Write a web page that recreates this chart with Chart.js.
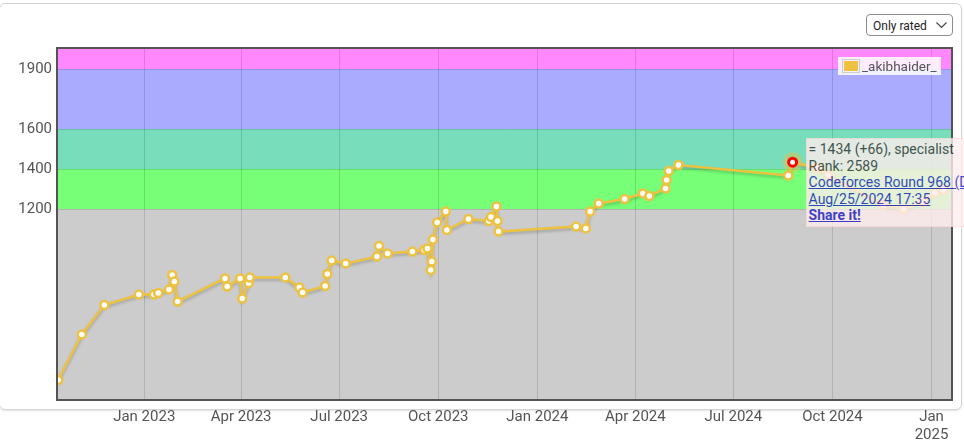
<!DOCTYPE html>
<html>
<head>
<meta charset="utf-8">
<script src="https://cdn.jsdelivr.net/npm/chart.js@4.4.1/dist/chart.umd.min.js"></script>
<style>
  html, body { margin: 0; padding: 0; background: #fff; overflow: hidden; }
  body { width: 964px; height: 444px; position: relative; font-family: Roboto, "Noto Sans", sans-serif; }
  #panel { position: absolute; left: -1px; top: 3px; width: 961px; height: 405px; border: 1px solid #d4d4d4; border-radius: 6px; box-shadow: 0 1px 2px rgba(0,0,0,0.12); }
  #chart { position: absolute; left: 0; top: 0; }
  #filter { position: absolute; left: 866px; top: 14px; width: 87px; height: 22px; border: 1px solid #8c8c8c; border-radius: 4px; background: #fff; font-size: 12px; color: #222; line-height: 22px; box-sizing: border-box; padding-left: 6px; }
  #filter svg { position: absolute; right: 5px; top: 7px; }
  #legend { position: absolute; left: 838px; top: 57px; height: 18px; padding: 0 4px; background: rgba(255,255,255,0.85); font-size: 13.5px; color: #545454; line-height: 18px; white-space: nowrap; }
  #legend .sw { display: inline-block; vertical-align: middle; border: 1px solid #ccc; padding: 1px; margin-right: 2px; margin-top: -2px; }
  #legend .sw div { width: 14px; height: 10px; background: #EDC240; }
  #tip { position: absolute; border: 1px solid #fdd; padding: 2px; background: #fee; opacity: 0.8; font-size: 14px; line-height: 16.5px; color: #333; white-space: nowrap; }
  #tip a { color: #1a1ac8; text-decoration: underline; }
  #tip a.share { font-weight: bold; }
</style>
</head>
<body>
<div id="panel"></div>
<canvas id="chart" width="964" height="444"></canvas>
<div id="filter">Only rated<svg width="11" height="7"><polyline points="0.5,0.5 5.5,5.5 10.5,0.5" fill="none" stroke="#444" stroke-width="1.2"/></svg></div>
<div id="legend"></div>
<div id="tip"></div>
<script>
// Contest history
const contestDates = [
  "2022-10-13", "2022-11-04", "2022-11-25", "2022-12-27", "2023-01-10", "2023-01-14",
  "2023-01-24", "2023-01-27", "2023-01-29", "2023-02-01", "2023-03-17", "2023-03-19",
  "2023-03-31", "2023-04-02", "2023-04-08", "2023-04-09", "2023-05-12", "2023-05-25",
  "2023-05-28", "2023-06-18", "2023-06-20", "2023-06-24", "2023-07-07", "2023-08-05",
  "2023-08-07", "2023-08-15", "2023-09-07", "2023-09-18", "2023-09-21", "2023-09-24",
  "2023-09-25", "2023-09-26", "2023-09-30", "2023-10-08", "2023-10-09", "2023-10-29",
  "2023-11-17", "2023-11-19", "2023-11-24", "2023-11-25", "2023-11-26", "2024-02-06",
  "2024-02-15", "2024-02-19", "2024-02-27", "2024-03-22", "2024-04-08", "2024-04-14",
  "2024-04-29", "2024-04-30", "2024-05-02", "2024-05-11", "2024-08-21", "2024-08-25",
  "2024-09-17", "2024-09-27", "2024-11-17", "2024-12-06", "2024-12-24", "2025-01-04",
  "2025-01-12"
];
const contestRatings = [
  345, 573, 720, 772, 772, 780,
  798, 870, 837, 737, 853, 812,
  853, 752, 829, 857, 858, 808,
  782, 815, 875, 942, 928, 962,
  1015, 978, 987, 995, 1003, 895,
  937, 1048, 1133, 1187, 1095, 1150,
  1140, 1160, 1212, 1140, 1087, 1112,
  1103, 1187, 1228, 1250, 1278, 1265,
  1303, 1345, 1390, 1420, 1368, 1434,
  1405, 1370, 1220, 1200, 1235, 1280,
  1295
];

const handle = "_akibhaider_";
const hoverIndex = 53;
const hoverRank = 2589;
const hoverTitle = "specialist";
const hoverContest = "Codeforces Round 968 (Div. 4)";
const hoverTime = "Aug/25/2024 17:35";

const yTickValues = [1200, 1400, 1600, 1900];
const xTickDates = ["2023-01-01", "2023-04-01", "2023-07-01", "2023-10-01", "2024-01-01",
  "2024-04-01", "2024-07-01", "2024-10-01", "2025-01-01"];
const xTickLabels = ["Jan 2023", "Apr 2023", "Jul 2023", "Oct 2023", "Jan 2024",
  "Apr 2024", "Jul 2024", "Oct 2024", ["Jan", "2025"]];

// rank bands: lower bounds and colours
const rankBounds = [0, 1200, 1400, 1600, 1900, 2100];
const rankColors = ["#CCCCCC", "#77FF77", "#77DDBB", "#AAAAFF", "#FF88FF"];

const lineColor = "#EDC240";

function toMs(s) {
  const [y, m, d] = s.split("-").map(Number);
  return Date.UTC(y, m - 1, d);
}

const points = contestDates.map((d, i) => ({ x: toMs(d), y: contestRatings[i] }));

// Background rank bands
const bandsPlugin = {
  id: "bands",
  beforeDraw(chart) {
    const { ctx, chartArea: a, scales: { y } } = chart;
    ctx.save();
    ctx.beginPath();
    ctx.rect(a.left, a.top, a.right - a.left, a.bottom - a.top);
    ctx.clip();
    for (let i = 0; i < rankColors.length; i++) {
      const top = y.getPixelForValue(rankBounds[i + 1]);
      const bot = y.getPixelForValue(rankBounds[i]);
      ctx.fillStyle = rankColors[i];
      ctx.fillRect(a.left, top, a.right - a.left, bot - top);
    }
    ctx.restore();
  }
};

// Shadow like flot, on the line only
const shadowPlugin = {
  id: "shadow",
  beforeDatasetDraw(chart, args) {
    const ctx = chart.ctx;
    ctx.save();
    if (args.index === 1) {
      ctx.shadowColor = "rgba(0,0,0,0.22)";
      ctx.shadowBlur = 3;
      ctx.shadowOffsetY = 2;
    }
  },
  afterDatasetDraw(chart) {
    chart.ctx.restore();
  }
};

// Frame, highlighted point and tooltip position
const overlayPlugin = {
  id: "overlay",
  afterDraw(chart) {
    const { ctx, chartArea: a } = chart;
    ctx.save();
    ctx.strokeStyle = "#545454";
    ctx.lineWidth = 2;
    ctx.strokeRect(a.left, a.top, a.right - a.left, a.bottom - a.top);

    const pt = chart.getDatasetMeta(0).data[hoverIndex];
    ctx.beginPath();
    ctx.arc(pt.x, pt.y, 10, 0, Math.PI * 2);
    ctx.fillStyle = "rgba(237,194,64,0.45)";
    ctx.fill();
    ctx.beginPath();
    ctx.arc(pt.x, pt.y, 4, 0, Math.PI * 2);
    ctx.fillStyle = "#fff";
    ctx.fill();
    ctx.lineWidth = 3;
    ctx.strokeStyle = "#ff0000";
    ctx.stroke();
    ctx.restore();

    const tip = document.getElementById("tip");
    tip.style.left = (pt.x + 13) + "px";
    tip.style.top = (pt.y - 24) + "px";
  }
};

const ctx = document.getElementById("chart").getContext("2d");
new Chart(ctx, {
  type: "line",
  data: {
    datasets: [{
      // points, drawn on top
      label: handle,
      data: points,
      showLine: false,
      pointRadius: 4,
      pointBorderWidth: 2.5,
      pointBackgroundColor: "#fff",
      pointBorderColor: lineColor
    }, {
      // the rating line underneath
      label: handle,
      data: points,
      borderColor: lineColor,
      borderWidth: 2.5,
      pointRadius: 0,
      tension: 0
    }]
  },
  options: {
    responsive: false,
    devicePixelRatio: 1,
    animation: false,
    events: [],
    layout: { padding: { top: 48, right: 12, left: 0, bottom: 0 } },
    plugins: { legend: { display: false }, tooltip: { enabled: false } },
    scales: {
      x: {
        type: "linear",
        min: Date.UTC(2022, 9, 12),
        max: Date.UTC(2025, 0, 20),
        afterBuildTicks(scale) {
          scale.ticks = xTickDates.map((d) => ({ value: toMs(d) }));
        },
        afterFit(scale) { scale.height = 44; },
        ticks: {
          autoSkip: false,
          maxRotation: 0,
          padding: 8,
          color: "#545454",
          font: { family: "Roboto", size: 15 },
          callback: (v, i) => xTickLabels[i]
        },
        grid: { color: "rgba(0,0,0,0.13)", drawTicks: false },
        border: { display: false }
      },
      y: {
        min: 245,
        max: 2005,
        afterBuildTicks(scale) {
          scale.ticks = yTickValues.map((v) => ({ value: v }));
        },
        afterFit(scale) { scale.width = 57; },
        ticks: {
          padding: 5,
          color: "#545454",
          font: { family: "Roboto", size: 15 },
          callback: (v) => String(v)
        },
        grid: { color: "rgba(0,0,0,0.13)", drawTicks: false },
        border: { display: false }
      }
    }
  },
  plugins: [bandsPlugin, shadowPlugin, overlayPlugin]
});

// Legend and tooltip text
document.getElementById("legend").innerHTML =
  '<span class="sw"><div></div></span>' + handle;

const prev = contestRatings[hoverIndex - 1];
const cur = contestRatings[hoverIndex];
const delta = cur - prev;
document.getElementById("tip").innerHTML =
  "= " + cur + " (" + (delta >= 0 ? "+" : "") + delta + "), " + hoverTitle + "<br>" +
  "Rank: " + hoverRank + "<br>" +
  '<a href="#">' + hoverContest + "</a><br>" +
  '<a href="#">' + hoverTime + "</a><br>" +
  '<a href="#" class="share">Share it!</a>';
</script>
</body>
</html>
